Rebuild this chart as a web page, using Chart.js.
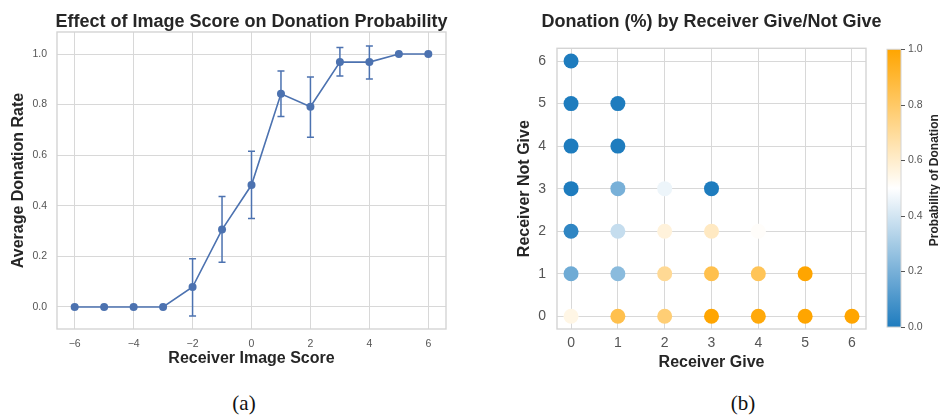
<!DOCTYPE html>
<html>
<head>
<meta charset="utf-8">
<script src="https://cdn.jsdelivr.net/npm/chart.js@4/dist/chart.umd.min.js"></script>
<style>
  body { margin: 0; background: #fff; width: 940px; height: 415px; position: relative; overflow: hidden; }
  #scoreChart { position: absolute; left: 0; top: 0; }
  #gridChart  { position: absolute; left: 470px; top: 0; }
  .cap { position: absolute; top: 393px; font-family: "Liberation Serif", "DejaVu Serif", serif; font-size: 21px; line-height: 21px; color: #111; transform: translateX(-50%); }
</style>
</head>
<body>
<canvas id="scoreChart" width="460" height="380"></canvas>
<canvas id="gridChart" width="470" height="380"></canvas>
<div class="cap" style="left:244px">(a)</div>
<div class="cap" style="left:743px">(b)</div>
<script>
// (a) image score vs donation rate
const scores       = [-6, -5, -4, -3, -2, -1, 0, 1, 2, 3, 4, 5, 6];
const donationRate = [0, 0, 0, 0, 0.079, 0.306, 0.482, 0.843, 0.792, 0.968, 0.968, 1.0, 1.0];
const errLow       = [0, 0, 0, 0, -0.036, 0.177, 0.350, 0.753, 0.671, 0.913, 0.901, 1.0, 1.0];
const errHigh      = [0, 0, 0, 0, 0.191, 0.437, 0.616, 0.933, 0.909, 1.026, 1.032, 1.0, 1.0];
const scoreTicks   = [-6, -4, -2, 0, 2, 4, 6];
const rateTicks    = [0, 0.2, 0.4, 0.6, 0.8, 1.0];

// (b) receiver give / not give grid
const give     = [0, 0, 1, 0, 1, 0, 1, 2, 3, 0, 1, 2, 3, 4, 0, 1, 2, 3, 4, 5, 0, 1, 2, 3, 4, 5, 6];
const notGive  = [6, 5, 5, 4, 4, 3, 3, 3, 3, 2, 2, 2, 2, 2, 1, 1, 1, 1, 1, 1, 0, 0, 0, 0, 0, 0, 0];
const donProb  = [0, 0, 0, 0, 0, 0, 0.20, 0.46, 0, 0.04, 0.37, 0.57, 0.62, 0.51, 0.18, 0.24, 0.71, 0.85, 0.83, 1.0, 0.55, 0.85, 0.77, 1.0, 0.98, 1.0, 1.0];
const countTicks = [0, 1, 2, 3, 4, 5, 6];
const cbTicks    = [0, 0.2, 0.4, 0.6, 0.8, 1.0];

const FONT = '"Liberation Sans", Arial, sans-serif';
const DARK = '#262626';
const TICK = '#555555';
const GRID = '#d8d8d8';
const BLUE = '#4c72b0';

// blue -> white -> orange
function cmap(v){
  const lo = [30, 124, 190], mid = [255, 255, 255], hi = [255, 165, 0];
  let a, b, t;
  if(v < 0.5){ a = lo; b = mid; t = v / 0.5; } else { a = mid; b = hi; t = (v - 0.5) / 0.5; }
  const c = a.map((x, i) => Math.round(x + (b[i] - x) * t));
  return `rgb(${c[0]},${c[1]},${c[2]})`;
}

const fixTicks = list => scale => { scale.ticks = list.map(v => ({ value: v })); };
const minus = v => v < 0 ? '\u2212' + Math.abs(v) : String(v);

const frame = {
  id: 'frame',
  afterDraw(chart){
    const { ctx, chartArea: a } = chart;
    ctx.save();
    ctx.strokeStyle = '#d4d4d4';
    ctx.lineWidth = 1.4;
    ctx.strokeRect(a.left, a.top, a.right - a.left, a.bottom - a.top);
    ctx.fillStyle = DARK;
    ctx.font = 'bold 18px ' + FONT;
    ctx.textAlign = 'center';
    ctx.textBaseline = 'alphabetic';
    ctx.fillText(chart.options.plugins.heading, (a.left + a.right) / 2, 27);
    ctx.restore();
  }
};

const errorBars = {
  id: 'errorBars',
  beforeDatasetsDraw(chart){
    const { ctx, scales: { x, y } } = chart;
    ctx.save();
    ctx.strokeStyle = BLUE;
    ctx.lineWidth = 1.5;
    scores.forEach((s, i) => {
      if(errLow[i] === errHigh[i]) return;
      const px = x.getPixelForValue(s);
      const y1 = y.getPixelForValue(errLow[i]);
      const y2 = y.getPixelForValue(errHigh[i]);
      ctx.beginPath();
      ctx.moveTo(px, y1); ctx.lineTo(px, y2);
      ctx.moveTo(px - 3.5, y1); ctx.lineTo(px + 3.5, y1);
      ctx.moveTo(px - 3.5, y2); ctx.lineTo(px + 3.5, y2);
      ctx.stroke();
    });
    ctx.restore();
  }
};

new Chart(document.getElementById('scoreChart'), {
  type: 'scatter',
  data: {
    datasets: [{
      data: scores.map((s, i) => ({ x: s, y: donationRate[i] })),
      showLine: true,
      borderColor: BLUE,
      borderWidth: 1.6,
      backgroundColor: BLUE,
      pointRadius: 4,
      pointBorderWidth: 0
    }]
  },
  options: {
    responsive: false,
    animation: false,
    events: [],
    layout: { padding: { top: 32, right: 14, left: 0, bottom: 0 } },
    plugins: { legend: { display: false }, tooltip: { enabled: false }, heading: 'Effect of Image Score on Donation Probability' },
    scales: {
      x: {
        type: 'linear', min: -6.6, max: 6.6,
        afterBuildTicks: fixTicks(scoreTicks),
        afterFit: s => { s.height = 51; },
        grid: { color: GRID, drawTicks: false },
        border: { display: false },
        ticks: { callback: minus, color: TICK, font: { family: FONT, size: 10.5 }, padding: 9, maxRotation: 0 },
        title: { display: true, text: 'Receiver Image Score', color: DARK, font: { family: FONT, size: 16, weight: 'bold' }, padding: { top: 0, bottom: 11.4 } }
      },
      y: {
        type: 'linear', min: -0.087, max: 1.087,
        afterBuildTicks: fixTicks(rateTicks),
        afterFit: s => { s.width = 57; },
        grid: { color: GRID, drawTicks: false },
        border: { display: false },
        ticks: { callback: v => v.toFixed(1), color: TICK, font: { family: FONT, size: 10.5 }, padding: 10 },
        title: { display: true, text: 'Average Donation Rate', color: DARK, font: { family: FONT, size: 16, weight: 'bold' }, padding: { top: 9.4, bottom: 0 } }
      }
    }
  },
  plugins: [errorBars, frame]
});

const colorBar = {
  id: 'colorBar',
  afterDraw(chart){
    const { ctx } = chart;
    const cb = chart.scales.cb;
    const x0 = 417, w = 14;
    const yTop = cb.getPixelForValue(1), yBot = cb.getPixelForValue(0);
    ctx.save();
    const g = ctx.createLinearGradient(0, yBot, 0, yTop);
    for(let i = 0; i <= 20; i++) g.addColorStop(i / 20, cmap(i / 20));
    ctx.fillStyle = g;
    ctx.fillRect(x0, yTop, w, yBot - yTop);
    ctx.strokeStyle = '#d4d4d4';
    ctx.lineWidth = 1;
    ctx.strokeRect(x0, yTop, w, yBot - yTop);
    ctx.strokeStyle = TICK;
    ctx.lineWidth = 1;
    cbTicks.forEach(v => {
      const py = Math.round(cb.getPixelForValue(v)) + 0.5;
      ctx.beginPath(); ctx.moveTo(x0 + w, py); ctx.lineTo(x0 + w + 4, py); ctx.stroke();
    });
    ctx.translate(465, (yTop + yBot) / 2 - 8);
    ctx.rotate(-Math.PI / 2);
    ctx.fillStyle = DARK;
    ctx.font = 'bold 12px ' + FONT;
    ctx.textAlign = 'center';
    ctx.textBaseline = 'middle';
    ctx.fillText('Probability of Donation', 0, 0);
    ctx.restore();
  }
};

new Chart(document.getElementById('gridChart'), {
  type: 'scatter',
  data: {
    datasets: [{
      data: give.map((g, i) => ({ x: g, y: notGive[i] })),
      backgroundColor: donProb.map(cmap),
      pointRadius: 7.5,
      pointBorderWidth: 0
    }]
  },
  options: {
    responsive: false,
    animation: false,
    events: [],
    layout: { padding: { top: 32, right: 0, left: 0, bottom: 0 } },
    plugins: { legend: { display: false }, tooltip: { enabled: false }, heading: 'Donation (%) by Receiver Give/Not Give' },
    scales: {
      x: {
        type: 'linear', min: -0.3, max: 6.3,
        afterBuildTicks: fixTicks(countTicks),
        afterFit: s => { s.height = 51; },
        grid: { color: GRID, drawTicks: false },
        border: { display: false },
        ticks: { color: TICK, font: { family: FONT, size: 14 }, padding: 6, maxRotation: 0 },
        title: { display: true, text: 'Receiver Give', color: DARK, font: { family: FONT, size: 16, weight: 'bold' }, padding: { top: 0, bottom: 7.4 } }
      },
      y: {
        type: 'linear', min: -0.3, max: 6.3,
        afterBuildTicks: fixTicks(countTicks),
        afterFit: s => { s.width = 87; },
        grid: { color: GRID, drawTicks: false },
        border: { display: false },
        ticks: { color: TICK, font: { family: FONT, size: 14 }, padding: 11 },
        title: { display: true, text: 'Receiver Not Give', color: DARK, font: { family: FONT, size: 16, weight: 'bold' }, padding: { top: 45.4, bottom: 0 } }
      },
      cb: {
        type: 'linear', position: 'right', min: -0.007, max: 1.0035,
        afterBuildTicks: fixTicks(cbTicks),
        afterFit: s => { s.width = 74; },
        grid: { display: false, drawTicks: false, drawOnChartArea: false },
        border: { display: false },
        ticks: { callback: v => v.toFixed(1), color: TICK, font: { family: FONT, size: 10.5 }, padding: 42 }
      }
    }
  },
  plugins: [frame, colorBar]
});
</script>
</body>
</html>
